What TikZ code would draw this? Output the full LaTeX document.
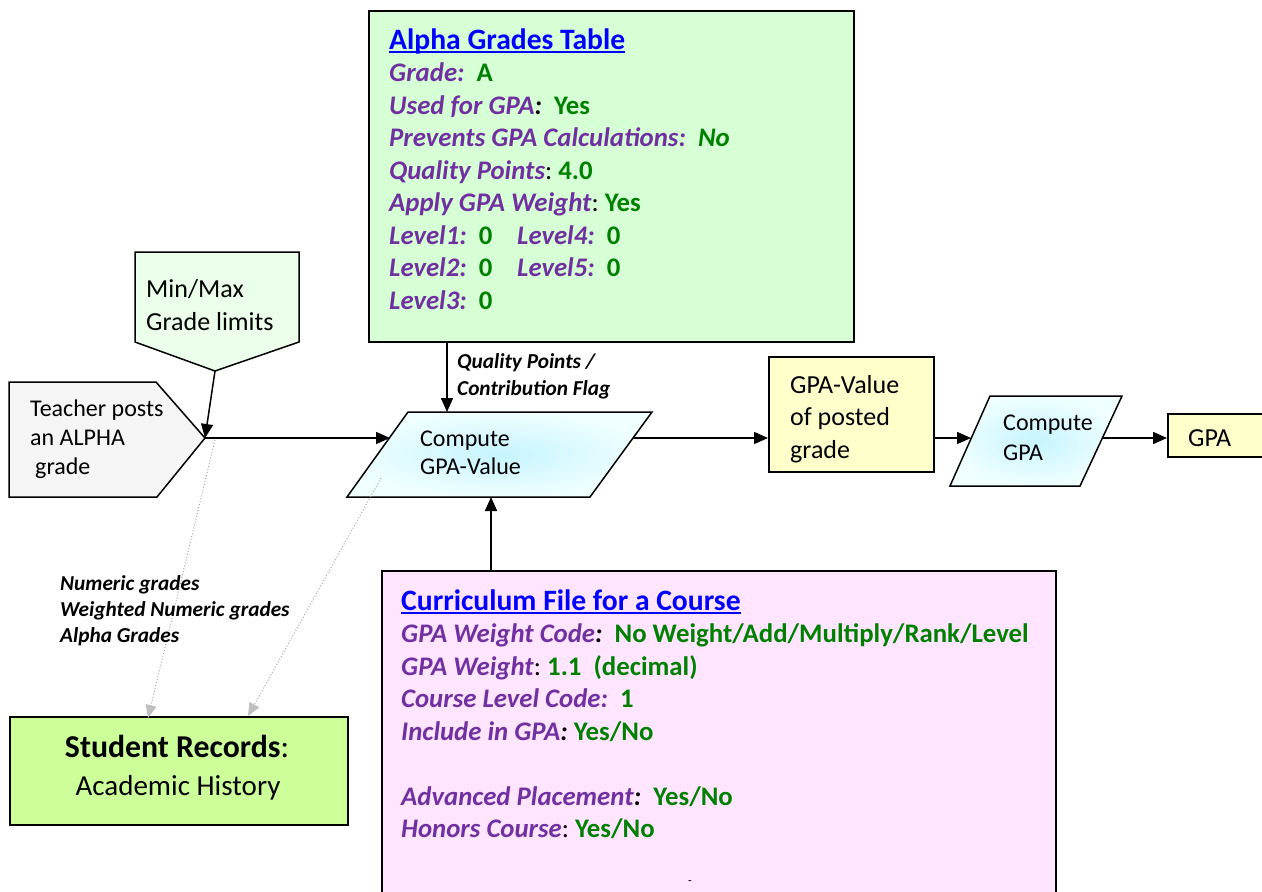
\documentclass[tikz,border=0pt]{standalone}
\usepackage{fontspec}
\setmainfont{Carlito}
\usetikzlibrary{arrows.meta}
\definecolor{lblpurple}{HTML}{7030A0}
\definecolor{valgreen}{HTML}{008000}
\definecolor{ttlblue}{HTML}{0000FF}
\definecolor{alphafill}{HTML}{D6FFD6}
\definecolor{minmaxfill}{HTML}{EBFFEB}
\definecolor{teacherfill}{HTML}{F5F5F5}
\definecolor{currfill}{HTML}{FFE5FF}
\definecolor{recfill}{HTML}{CCFF99}
\definecolor{yelfill}{HTML}{FFFFCC}
\definecolor{cyanin}{HTML}{C6F4FF}
\definecolor{cyanout}{HTML}{F0FFFF}
\definecolor{dotgray}{HTML}{A6A6A6}
\definecolor{tipgray}{HTML}{BFBFBF}
\newcommand{\lab}[1]{\textcolor{lblpurple}{\textbf{\textit{#1}}}}
\newcommand{\val}[1]{\textcolor{valgreen}{\textbf{#1}}}
\newcommand{\bic}{\textbf{\textit{:}}}
\begin{document}
\begin{tikzpicture}[x=1pt,y=-1pt,
  box/.style={draw=black,line width=1.5pt,inner sep=0pt,anchor=north west},
  shapeline/.style={draw=black,line width=1.5pt,line join=miter},
  txt/.style={inner sep=0pt,anchor=base west},
  titletxt/.style={txt,font=\fontsize{29.6}{32.5}\selectfont\bfseries},
  bigtxt/.style={txt,font=\fontsize{26.8}{32.5}\selectfont},
  midtxt/.style={txt,font=\fontsize{26}{32}\selectfont},
  smalltxt/.style={txt,font=\fontsize{24}{29}\selectfont},
  flowlbl/.style={txt,font=\fontsize{21.3}{26}\selectfont\bfseries\itshape},
  flow/.style={line width=1.5pt,-{Triangle[length=14pt,width=12pt]}},
  dotflow/.style={dotgray,line width=1pt,dash pattern=on 1pt off 2pt,-{Triangle[length=13pt,width=11pt,color=tipgray]}},
]
\useasboundingbox (0,0) rectangle (1262,892);
\clip (0,0) rectangle (1262,892);

% boxes
\node[box,fill=alphafill,minimum width=485pt,minimum height=331pt] (alpha) at (368,10) {};
\node[box,fill=currfill,minimum width=674pt,minimum height=340pt] (curr) at (381,570) {};
\node[box,fill=yelfill,minimum width=165pt,minimum height=115pt] (gpaval) at (768,356) {};
\node[box,fill=yelfill,minimum width=110pt,minimum height=43pt] (gpa) at (1167,413) {};
\node[box,fill=recfill,minimum width=338pt,minimum height=108pt] (rec) at (9,716) {};

% teacher (pentagon pointing right)
\draw[shapeline,fill=teacherfill] (9,382) -- (156,382) -- (205,438) -- (157,497) -- (9,497) -- cycle;
\coordinate (teachtip) at (205,438);
% min/max (pentagon pointing down)
\draw[shapeline,fill=minmaxfill] (135,252) -- (299,252) -- (299,342) -- (215,371) -- (135,342) -- cycle;
\coordinate (mmtip) at (215,371);
% compute GPA-Value parallelogram
\shade[shapeline,inner color=cyanin,outer color=cyanout] (408,412) -- (652,412) -- (590,497) -- (347,497) -- cycle;
\coordinate (cgvin) at (390,438);
\coordinate (cgvout) at (633,438);
\coordinate (cgvtop) at (447,412);
\coordinate (cgvbot) at (491,497);
\coordinate (cgvdot) at (381,478);
% compute GPA parallelogram
\shade[shapeline,inner color=cyanin,outer color=cyanout] (990,396) -- (1122,396) -- (1080,486) -- (950,486) -- cycle;
\coordinate (cgin) at (971,438);
\coordinate (cgout) at (1103,438);
% record targets
\coordinate (rec1) at (148,718);
\coordinate (rec2) at (248,716);
\coordinate (teachdot) at (215,440);

% connectors
\draw[flow] (mmtip) -- (teachtip);
\draw[flow] (teachtip) -- (cgvin);
\draw[flow] (alpha.south -| cgvtop) -- (cgvtop);
\draw[flow] (curr.north -| cgvbot) -- (cgvbot);
\draw[flow] (cgvout) -- (gpaval.west |- cgvout);
\draw[flow] (gpaval.east |- cgvout) -- (cgin);
\draw[flow] (cgout) -- (gpa.west |- cgout);
\draw[dotflow] (teachdot) -- (rec1);
\draw[dotflow] (cgvdot) -- (rec2);

% Alpha grades table text
\node[titletxt] (a0) at (389,49) {\textcolor{ttlblue}{Alpha Grades Table}};
\draw[ttlblue,line width=2pt] ([yshift=-3pt]a0.base west) -- ([yshift=-3pt]a0.base east);
\node[bigtxt] (a1) at (389,81.5) {\lab{Grade:}~~\val{A}};
\node[bigtxt] (a2) at (389,114) {\lab{Used for GPA}\bic~~\val{Yes}};
\node[bigtxt] (a3) at (389,146.5) {\lab{Prevents GPA Calculations:}~~\textcolor{valgreen}{\textbf{\textit{No}}}};
\node[bigtxt] (a4) at (389,179) {\lab{Quality Points}:~\val{4.0}};
\node[bigtxt] (a5) at (389,211.5) {\lab{Apply GPA Weight}:~\val{Yes}};
\node[bigtxt] (a6) at (389,244) {\lab{Level1:}~~\val{0}};
\node[bigtxt] (a6b) at (517,244) {\lab{Level4:}~~\val{0}};
\node[bigtxt] (a7) at (389,276.5) {\lab{Level2:}~~\val{0}};
\node[bigtxt] (a7b) at (517,276.5) {\lab{Level5:}~~\val{0}};
\node[bigtxt] (a8) at (389,309) {\lab{Level3:}~~\val{0}};

% Curriculum text
\node[titletxt] (c0) at (401,610) {\textcolor{ttlblue}{Curriculum File for a Course}};
\draw[ttlblue,line width=2pt] ([yshift=-3pt]c0.base west) -- ([yshift=-3pt]c0.base east);
\node[bigtxt] (c1) at (401,642.5) {\lab{GPA Weight Code}\bic~~\val{No Weight/Add/Multiply/Rank/Level}};
\node[bigtxt] (c2) at (401,675) {\lab{GPA Weight}:~\val{1.1~~(decimal)}};
\node[bigtxt] (c3) at (401,707.5) {\lab{Course Level Code:}~~\val{1}};
\node[bigtxt] (c4) at (401,740) {\lab{Include in GPA}\bic~\val{Yes/No}};
\node[bigtxt] (c5) at (401,805) {\lab{Advanced Placement}\bic~~\val{Yes/No}};
\node[bigtxt] (c6) at (401,837.5) {\lab{Honors Course}:~\val{Yes/No}};
\node[txt,font=\fontsize{12}{14}\selectfont] (cdash) at (688,884) {-};

% other texts
\node[midtxt] (m1) at (146,297) {Min/Max};
\node[midtxt] (m2) at (146,330) {Grade limits};
\node[smalltxt] (t1) at (30,416) {Teacher posts};
\node[smalltxt] (t2) at (30,445) {an ALPHA};
\node[smalltxt] (t3) at (35,474) {grade};
\node[smalltxt] (g1) at (420,446) {Compute};
\node[smalltxt] (g2) at (420,474) {GPA-Value};
\node[midtxt] (v1) at (790,393) {GPA-Value};
\node[midtxt] (v2) at (790,425.5) {of posted};
\node[midtxt] (v3) at (790,458) {grade};
\node[smalltxt] (k1) at (1003,430) {Compute};
\node[smalltxt] (k2) at (1003,460) {GPA};
\node[midtxt] (p1) at (1188,446) {GPA};
\node[flowlbl] (q1) at (457,368) {Quality Points /};
\node[flowlbl] (q2) at (457,395) {Contribution Flag};
\node[flowlbl] (n1) at (60,590) {Numeric grades};
\node[flowlbl] (n2) at (60,616) {Weighted Numeric grades};
\node[flowlbl] (n3) at (60,642) {Alpha Grades};
\node[inner sep=0pt,anchor=base,font=\fontsize{31.8}{38}\selectfont] (r1) at (177,757) {\textbf{Student Records}:};
\node[inner sep=0pt,anchor=base,font=\fontsize{29}{38}\selectfont] (r2) at (178,795) {Academic History};
\end{tikzpicture}
\end{document}
